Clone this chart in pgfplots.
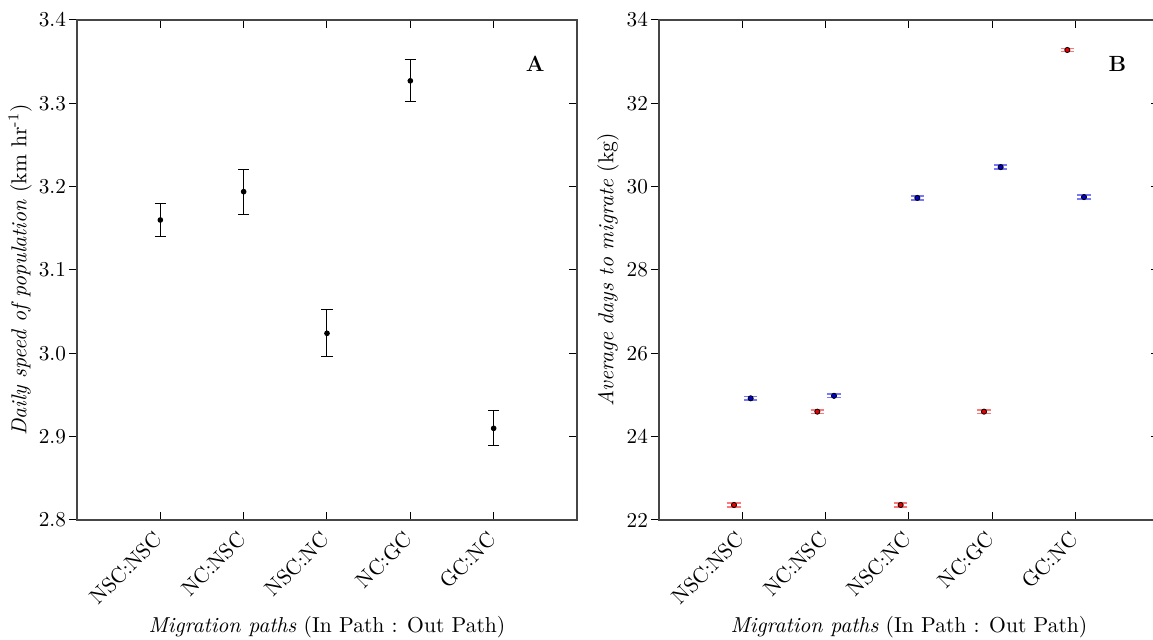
\documentclass[border=0pt]{standalone}
\usepackage{fontspec}
\usepackage{pgfplots}
\usepackage{pgfplotstable}
\pgfplotsset{compat=1.18}

\pgfplotstableread{
x y e
1 3.160 0.020
2 3.194 0.027
3 3.024 0.028
4 3.327 0.025
5 2.910 0.021
}\speedtab

\pgfplotstableread{
x y e
0.9 22.36 0.045
1.9 24.60 0.045
2.9 22.36 0.045
3.9 24.60 0.045
4.9 33.28 0.040
}\redtab

\pgfplotstableread{
x y e
1.1 24.92 0.045
2.1 24.98 0.045
3.1 29.73 0.050
4.1 30.47 0.050
5.1 29.75 0.050
}\bluetab

\definecolor{axgray}{RGB}{70,70,70}
\definecolor{ptred}{RGB}{230,0,0}
\definecolor{ptblue}{RGB}{0,0,200}
\definecolor{capred}{RGB}{255,120,120}
\definecolor{capblue}{RGB}{120,120,255}

\newcommand{\tickfont}{\fontsize{10.6}{12}\selectfont}
\newcommand{\labfont}{\fontsize{10.8}{13}\selectfont}

\pgfplotsset{
  panel/.style={
    scale only axis, width=250pt, height=250pt,
    xmin=0, xmax=6, xtick={1,2,3,4,5},
    xticklabels={{\tickfont NSC:NSC},{\tickfont NC:NSC},{\tickfont NSC:NC},{\tickfont NC:GC},{\tickfont GC:NC}},
    xtick pos=both, xticklabel pos=lower,
    ytick pos=both, yticklabel pos=left,
    xtick align=inside, ytick align=center,
    major tick length=4pt,
    ytick style={xshift=-2pt},
    axis line style={axgray, line width=0.6pt},
    every tick/.style={black, line width=0.5pt},
    xticklabel style={rotate=45, anchor=east, inner sep=1pt, yshift=-5pt, xshift=-5pt},
    every axis x label/.style={at={(axis description cs:0.5,-0.214)}, anchor=center},
    xlabel={\labfont\textit{Migration paths} (In Path : Out Path)},
  }
}

\begin{document}
\begin{tikzpicture}
\useasboundingbox (0,0) rectangle (576.5pt,320pt);

\begin{axis}[panel, at={(38.5pt,60pt)}, anchor=south west,
  ymin=2.8, ymax=3.4, ytick={2.8,2.9,3.0,3.1,3.2,3.3,3.4},
  yticklabels={{\tickfont 2.8},{\tickfont 2.9},{\tickfont 3.0},{\tickfont 3.1},{\tickfont 3.2},{\tickfont 3.3},{\tickfont 3.4}},
  every axis y label/.style={at={(axis description cs:-0.114,0.5)}, rotate=90, anchor=center},
  ylabel={\labfont\textit{Daily speed of population} (km hr\textsuperscript{-1})},
]
\addplot[black, only marks, mark=*, mark size=1.2pt,
  error bars/.cd, y dir=both, y explicit,
  error mark options={rotate=90, mark size=2.8pt, line width=0.5pt},
  error bar style={line width=0.5pt}]
  table[x=x, y=y, y error=e] {\speedtab};
\node at (axis cs:5.5,3.347) {\fontsize{11}{13}\selectfont\bfseries A};
\end{axis}

\begin{axis}[panel, at={(329.5pt,60pt)}, anchor=south west,
  ymin=22, ymax=34, ytick={22,24,...,34},
  yticklabels={{\tickfont 22},{\tickfont 24},{\tickfont 26},{\tickfont 28},{\tickfont 30},{\tickfont 32},{\tickfont 34}},
  every axis y label/.style={at={(axis description cs:-0.102,0.5)}, rotate=90, anchor=center},
  ylabel={\labfont\textit{Average days to migrate} (kg)},
]
\addplot[only marks, mark=*, mark size=1.3pt, mark options={fill=ptred, draw=black, line width=0.4pt},
  error bars/.cd, y dir=both, y explicit,
  error mark options={rotate=90, mark size=3.3pt, line width=0.8pt, capred},
  error bar style={line width=0.5pt, capred}]
  table[x=x, y=y, y error=e] {\redtab};
\addplot[only marks, mark=*, mark size=1.3pt, mark options={fill=ptblue, draw=black, line width=0.4pt},
  error bars/.cd, y dir=both, y explicit,
  error mark options={rotate=90, mark size=3.3pt, line width=0.8pt, capblue},
  error bar style={line width=0.5pt, capblue}]
  table[x=x, y=y, y error=e] {\bluetab};
\node at (axis cs:5.5,32.94) {\fontsize{11}{13}\selectfont\bfseries B};
\end{axis}
\end{tikzpicture}
\end{document}
